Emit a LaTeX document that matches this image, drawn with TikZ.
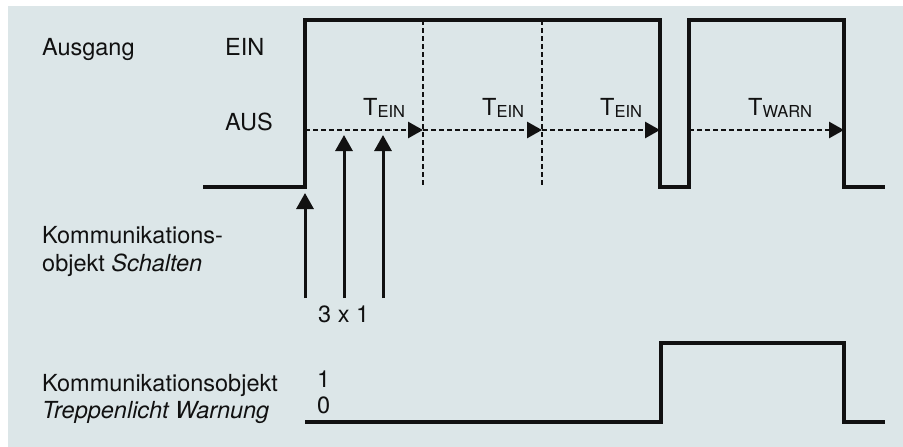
\documentclass[tikz,border=0pt]{standalone}
\usepackage{fontspec}
\setmainfont{TeX Gyre Heros}
\usepackage{xcolor}
\definecolor{panelGray}{HTML}{DCE6E8}
\definecolor{lineBlack}{HTML}{111111}
\usepackage{tikz}
\usetikzlibrary{
    arrows.meta,
    positioning
}
\newcommand{\Tsub}[1]{T\raisebox{-2pt}{\fontsize{16.5}{16.5}\selectfont #1}}
\tikzset{
    % Base style for all texts
    plain text/.style={
        font=\fontsize{23.5}{28}\selectfont,
        text=lineBlack,
        inner sep=0pt,
        anchor=base west,
    },
    % Signal line - thick black step line
    signal/.style={
        draw=lineBlack,
        line width=3.2pt,
        line join=miter,
    },
    % Dashed divider between timer periods
    divider/.style={
        draw=lineBlack,
        line width=2.8pt,
        dash pattern=on 5pt off 3pt,
    },
    % Dashed timer arrow
    timer arrow/.style={
        divider,
        -{Triangle[length=15pt, width=16pt]},
    },
    % Telegram arrow - solid, pointing up
    telegram/.style={
        -{Triangle[length=16pt, width=17pt]},
        draw=lineBlack,
        line width=3pt,
    },
}

\begin{document}
\begin{tikzpicture}[x=1pt, y=-1pt]
    \useasboundingbox (0,0) rectangle (903,447);
    \fill [panelGray] (8,6) rectangle (903,447);

    % texts on the left
    \node (ausgang) [plain text] at (42,56) {Ausgang};
    \node (ein) [plain text] at (225,56) {EIN};
    \node (aus) [plain text] at (225,130) {AUS};
    \node (schalten1) [plain text] at (42,243) {Kommunikations-};
    \node (schalten2) [plain text] at (42,271) {objekt \textit{Schalten}};
    \node (warn1) [plain text] at (42,391) {Kommunikationsobjekt};
    \node (warn2) [plain text] at (42,418) {\textit{Treppenlicht Warnung}};
    \node (one) [plain text] at (317,387) {1};
    \node (zero) [plain text] at (317,413) {0};
    \node (threex) [plain text] at (318,322) {3 x 1};

    % output signal
    \coordinate (a0) at (203,187);
    \coordinate (a1) at (305,187);
    \coordinate (a2) at (305,20);
    \coordinate (a3) at (660,20);
    \coordinate (a4) at (660,187);
    \coordinate (a5) at (689,187);
    \coordinate (a6) at (689,20);
    \coordinate (a7) at (844,20);
    \coordinate (a8) at (844,187);
    \coordinate (a9) at (885,187);
    \draw [signal] (a0) -- (a1) -- (a2) -- (a3) -- (a4) -- (a5) -- (a6) -- (a7) -- (a8) -- (a9);

    % restarts of the timer
    \coordinate (d1top) at (423,20);
    \coordinate (d1bot) at (423,187);
    \coordinate (d2top) at (542,20);
    \coordinate (d2bot) at (542,187);
    \draw [divider] (d1top) -- (d1bot);
    \draw [divider] (d2top) -- (d2bot);

    \coordinate (t0) at (305,130);
    \coordinate (t1) at (423,130);
    \coordinate (t2) at (542,130);
    \coordinate (t3) at (660,130);
    \coordinate (w0) at (689,130);
    \coordinate (w1) at (844,130);
    \draw [timer arrow] (t0) -- (t1);
    \draw [timer arrow] (t1) -- (t2);
    \draw [timer arrow] (t2) -- (t3);
    \draw [timer arrow] (w0) -- (w1);

    \node (tein1) [plain text] at (363,115) {\Tsub{EIN}};
    \node (tein2) [plain text] at (482,115) {\Tsub{EIN}};
    \node (tein3) [plain text] at (600,115) {\Tsub{EIN}};
    \node (twarn) [plain text] at (748,115) {\Tsub{WARN}};

    % telegrams on Schalten
    \coordinate (p1b) at (305,298);
    \coordinate (p1t) at (305,193);
    \coordinate (p2b) at (344,298);
    \coordinate (p2t) at (344,135);
    \coordinate (p3b) at (383,298);
    \coordinate (p3t) at (383,135);
    \draw [telegram] (p1b) -- (p1t);
    \draw [telegram] (p2b) -- (p2t);
    \draw [telegram] (p3b) -- (p3t);

    % warning signal
    \coordinate (b0) at (305,422);
    \coordinate (b1) at (661,422);
    \coordinate (b2) at (661,343);
    \coordinate (b3) at (844,343);
    \coordinate (b4) at (844,422);
    \coordinate (b5) at (885,422);
    \draw [signal] (b0) -- (b1) -- (b2) -- (b3) -- (b4) -- (b5);
\end{tikzpicture}
\end{document}
